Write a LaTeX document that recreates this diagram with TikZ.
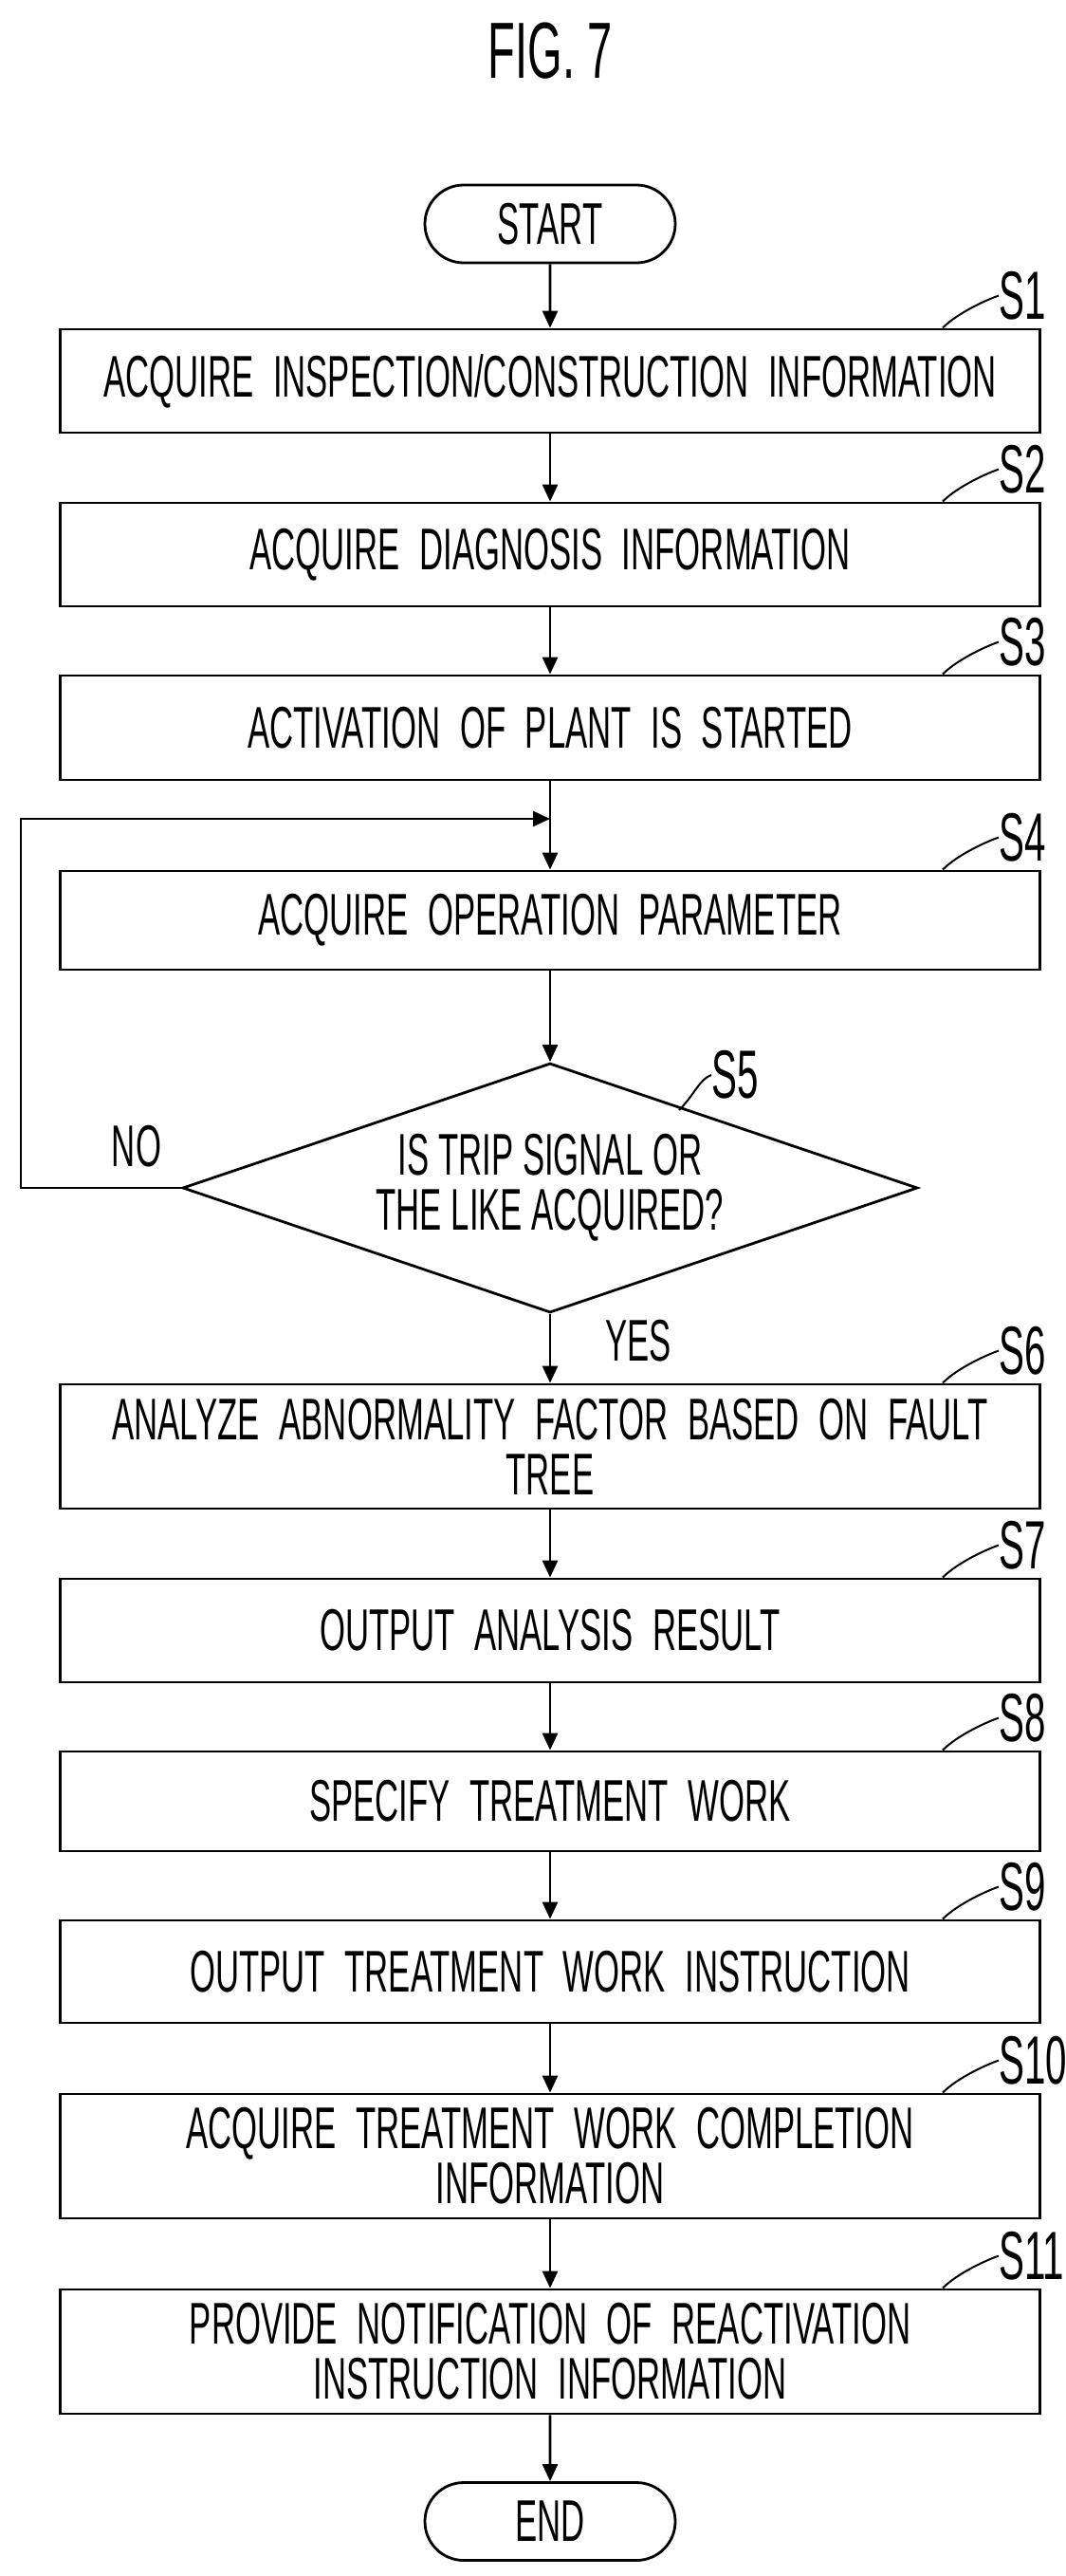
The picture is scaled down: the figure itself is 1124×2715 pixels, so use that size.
\documentclass[tikz,border=0pt]{standalone}
\usepackage{fontspec}
\setmainfont{Liberation Sans}[FakeStretch=0.56]
\usetikzlibrary{shapes.geometric,shapes.misc,arrows.meta}
\begin{document}
\begin{tikzpicture}[x=0.5pt,y=-0.5pt,
  every node/.style={font=\fontsize{31}{29}\selectfont},
  box/.style={draw,line width=1.4pt,minimum width=516.5pt,inner sep=2pt,align=center,text width=500pt},
  term/.style={draw,line width=1.4pt,rounded rectangle,minimum width=136pt,minimum height=41pt,inner sep=2pt},
  arr/.style={line width=1.4pt,-{Triangle[length=9pt,width=8pt]}},
  ln/.style={line width=1.4pt},
  lab/.style={anchor=west,inner sep=0pt},
  lead/.style={line width=1pt}]
\useasboundingbox (0,0) rectangle (1124,2715);
\node[font=\fontsize{42}{42}\selectfont] (title) at (580,54) {FIG. 7};
\node[term] (start) at (580,236) {START};
\node[box,minimum height=54.5pt] (s1) at (580,401.5) {ACQUIRE INSPECTION/CONSTRUCTION INFORMATION};
\node[box,minimum height=54.5pt] (s2) at (580,584.5) {ACQUIRE DIAGNOSIS INFORMATION};
\node[box,minimum height=55pt] (s3) at (580,767) {ACTIVATION OF PLANT IS STARTED};
\node[box,minimum height=52pt] (s4) at (580,970) {ACQUIRE OPERATION PARAMETER};
\node[draw,line width=1.4pt,diamond,aspect=2.95,minimum width=387.5pt,minimum height=131.5pt,inner sep=0pt,align=center] (s5) at (580,1252) {IS TRIP SIGNAL OR\\THE LIKE ACQUIRED?};
\node[box,minimum height=65.5pt] (s6) at (580,1524.5) {ANALYZE ABNORMALITY FACTOR BASED ON FAULT\\TREE};
\node[box,minimum height=54.5pt] (s7) at (580,1718.5) {OUTPUT ANALYSIS RESULT};
\node[box,minimum height=52.5pt] (s8) at (580,1898.5) {SPECIFY TREATMENT WORK};
\node[box,minimum height=54pt] (s9) at (580,2078) {OUTPUT TREATMENT WORK INSTRUCTION};
\node[box,minimum height=65.5pt] (s10) at (580,2272.5) {ACQUIRE TREATMENT WORK COMPLETION\\INFORMATION};
\node[box,minimum height=65.5pt] (s11) at (580,2478.5) {PROVIDE NOTIFICATION OF REACTIVATION\\INSTRUCTION INFORMATION};
\node[term] (end) at (580,2657.5) {END};
\coordinate (j) at (580,863);
\coordinate (l1) at (22,1252);
\coordinate (l2) at (22,863);
\draw[arr] (start) -- (s1);
\draw[arr] (s1) -- (s2);
\draw[arr] (s2) -- (s3);
\draw[arr] (s3) -- (s4);
\draw[arr] (s4) -- (s5);
\draw[arr] (s5) -- (s6);
\draw[arr] (s6) -- (s7);
\draw[arr] (s7) -- (s8);
\draw[arr] (s8) -- (s9);
\draw[arr] (s9) -- (s10);
\draw[arr] (s10) -- (s11);
\draw[arr] (s11) -- (end);
\draw[arr] (s5.west) -- (l1) -- (l2) -- (j);
\node (no) at (144,1208) {NO};
\node (yes) at (673,1413) {YES};
\foreach \s/\t in {s1/S1,s2/S2,s3/S3,s4/S4,s6/S6,s7/S7,s8/S8,s9/S9,s10/S10,s11/S11}{
  \node[lab,font=\fontsize{36}{36}\selectfont] (\s l) at ([xshift=14pt,yshift=17pt]\s.north east -| 1025,0) {\t};
  \draw[lead] ([xshift=-52pt]\s.north east) .. controls +(8pt,8pt) and +(-6pt,-2pt) .. (\s l.west);
}
\node[lab,font=\fontsize{36}{36}\selectfont] (s5l) at (750,1133) {S5};
\draw[lead] (716,1170) .. controls +(8pt,8pt) and +(-6pt,-2pt) .. (s5l.west);
\end{tikzpicture}
\end{document}
